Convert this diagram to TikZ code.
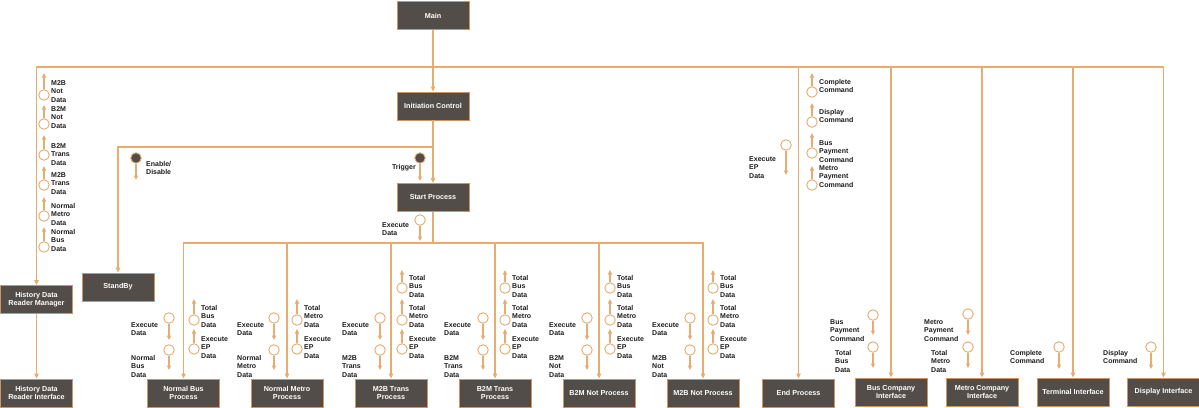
\documentclass[tikz,border=0pt]{standalone}
\usepackage{fontspec}
\setmainfont{Liberation Sans}
\usetikzlibrary{arrows.meta,calc}
\definecolor{ln}{RGB}{230,172,112}
\definecolor{bx}{RGB}{82,77,73}
\definecolor{bxd}{RGB}{205,150,95}
\definecolor{tx}{RGB}{30,30,30}
\tikzset{
 box/.style={draw=bxd, line width=0.9pt, fill=bx, minimum width=72pt, minimum height=28pt, inner sep=1pt, text=white, font=\bfseries\fontsize{7.2}{8.6}\selectfont, align=center},
 wire/.style={draw=ln, line width=1.3pt},
 warr/.style={wire, -{Triangle[length=5pt,width=4.5pt]}},
 farr/.style={draw=ln, line width=1.3pt, -{Triangle[length=4.5pt,width=4pt]}},
 dcirc/.style={circle, draw=ln, line width=0.9pt, fill=white, minimum size=10.5pt, inner sep=0},
 fcirc/.style={circle, draw=ln, line width=0.9pt, fill=bx, minimum size=10.5pt, inner sep=0},
 lbl/.style={inner sep=0, align=left, font=\bfseries\fontsize{7}{8.7}\selectfont, text=tx},
}
% down flow: name, cx, cy, tip y, label left x, label first-line y, text
\newcommand\dflow[7]{%
 \node[dcirc] (#1) at (#2,#3) {};
 \coordinate (#1e) at (#2,#4);
 \draw[farr] (#1) -- (#1e);
 \node[lbl, anchor=north west] (#1l) at (#5,#6-3) {#7};
}
% up flow: name, cx, cy, tip y, label first-line y, text
\newcommand\uflow[6]{%
 \node[dcirc] (#1) at (#2,#3) {};
 \coordinate (#1e) at (#2,#4);
 \draw[farr] (#1) -- (#1e);
 \node[lbl, anchor=north west] (#1l) at (#2+7,#5-3) {#6};
}
\begin{document}
\begin{tikzpicture}[x=1pt,y=-1pt]
\useasboundingbox[fill=white] (0,0) rectangle (1199,407);

% boxes
\node[box] (main) at (433,15.5) {Main};
\node[box] (ic) at (433,106) {Initiation Control};
\node[box] (sp) at (433,197.5) {Start Process};
\node[box] (sb) at (118,287) {StandBy};
\node[box] (hdrm) at (36.5,299.5) {History Data\\Reader Manager};
\node[box] (hdri) at (36.5,393) {History Data\\Reader Interface};
\node[box] (nbp) at (183.5,393) {Normal Bus\\Process};
\node[box] (nmp) at (287,393) {Normal Metro\\Process};
\node[box] (m2bt) at (391,393) {M2B Trans\\Process};
\node[box] (b2mt) at (495,393) {B2M Trans\\Process};
\node[box] (b2mn) at (599,393) {B2M Not Process};
\node[box] (m2bn) at (703,393) {M2B Not Process};
\node[box] (endp) at (798.5,393) {End Process};
\node[box] (bci) at (891,392) {Bus Company\\Interface};
\node[box] (mci) at (982,392) {Metro Company\\Interface};
\node[box] (ti) at (1073,392) {Terminal Interface};
\node[box] (di) at (1163.5,392) {Display Interface};

% junctions
\coordinate (jt) at (433,67);
\coordinate (jm) at (433,147);
\coordinate (js) at (433,243);

% main wires
\draw[warr] (main) -- (ic);
\draw[warr] (jt) -| (hdrm);
\draw[warr] (jt) -| (endp);
\draw[warr] (jt) -| (bci);
\draw[warr] (jt) -| (mci);
\draw[warr] (jt) -| (ti);
\draw[warr] (jt) -| (di);
\draw[warr] (hdrm) -- (hdri);
\draw[warr] (ic) -- (sp);
\draw[warr] (jm) -| (sb);
\draw[wire] (sp) -- (js);
\draw[warr] (js) -| (nbp);
\draw[warr] (js) -| (nmp);
\draw[warr] (js) -| (m2bt);
\draw[warr] (js) -| (b2mt);
\draw[warr] (js) -| (b2mn);
\draw[warr] (js) -| (m2bn);

% control flows
\node[fcirc] (en) at (136,158) {};
\coordinate (ene) at (136,180);
\draw[farr] (en) -- (ene);
\node[lbl, anchor=north west] (enl) at (146,161) {Enable/\\Disable};
\node[fcirc] (tr) at (420,158) {};
\coordinate (tre) at (420,181);
\draw[farr] (tr) -- (tre);
\node[lbl, anchor=east] (trl) at (416,168) {Trigger};

% data flows (down)
\dflow{sx}{420}{220}{241}{382}{225}{Execute\\Data}
\dflow{nb1}{169}{318}{340}{131}{325}{Execute\\Data}
\dflow{nb2}{169}{350}{370}{131}{358}{Normal\\Bus\\Data}
\dflow{nm1}{274}{318}{340}{237}{325}{Execute\\Data}
\dflow{nm2}{274}{350}{370}{237}{358}{Normal\\Metro\\Data}
\dflow{mt1}{380}{318}{340}{342}{325}{Execute\\Data}
\dflow{mt2}{380}{350}{370}{342}{358}{M2B\\Trans\\Data}
\dflow{bt1}{483}{318}{340}{444}{325}{Execute\\Data}
\dflow{bt2}{483}{350}{370}{444}{358}{B2M\\Trans\\Data}
\dflow{bn1}{587}{318}{340}{549}{325}{Execute\\Data}
\dflow{bn2}{587}{350}{370}{549}{358}{B2M\\Not\\Data}
\dflow{mn1}{690}{318}{340}{652}{325}{Execute\\Data}
\dflow{mn2}{690}{350}{370}{652}{358}{M2B\\Not\\Data}
\dflow{ep}{786}{145}{175}{749}{159}{Execute\\EP\\Data}
\dflow{bc1}{873}{315}{335}{830}{322}{Bus\\Payment\\Command}
\dflow{bc2}{873}{347}{368}{835}{353}{Total\\Bus\\Data}
\dflow{mc1}{968}{314}{335}{924}{322}{Metro\\Payment\\Command}
\dflow{mc2}{968}{347}{368}{931}{353}{Total\\Metro\\Data}
\dflow{tc}{1059}{347}{369}{1010}{353}{Complete\\Command}
\dflow{dc}{1151}{347}{369}{1103}{353}{Display\\Command}

% data flows (up) - history column
\uflow{h1}{44}{95}{73}{83}{M2B\\Not\\Data}
\uflow{h2}{44}{124}{105}{109}{B2M\\Not\\Data}
\uflow{h3}{44}{155}{135}{146}{B2M\\Trans\\Data}
\uflow{h4}{44}{185}{166}{175}{M2B\\Trans\\Data}
\uflow{h5}{44}{216}{197}{206}{Normal\\Metro\\Data}
\uflow{h6}{44}{247}{227}{232}{Normal\\Bus\\Data}
% end column
\uflow{e1}{812}{92}{73}{82}{Complete\\Command}
\uflow{e2}{812}{122}{103}{112}{Display\\Command}
\uflow{e3}{812}{153}{133}{143}{Bus\\Payment\\Command}
\uflow{e4}{812}{185}{166}{168}{Metro\\Payment\\Command}
% process outputs
\uflow{nbo1}{194}{320}{299}{308}{Total\\Bus\\Data}
\uflow{nbo2}{194}{349}{329}{339}{Execute\\EP\\Data}
\uflow{nmo1}{297}{320}{299}{308}{Total\\Metro\\Data}
\uflow{nmo2}{297}{349}{329}{339}{Execute\\EP\\Data}
\uflow{mto0}{402}{288}{270}{278}{Total\\Bus\\Data}
\uflow{mto1}{402}{320}{299}{308}{Total\\Metro\\Data}
\uflow{mto2}{402}{349}{329}{339}{Execute\\EP\\Data}
\uflow{bto0}{505}{288}{270}{278}{Total\\Bus\\Data}
\uflow{bto1}{505}{320}{299}{308}{Total\\Metro\\Data}
\uflow{bto2}{505}{349}{329}{339}{Execute\\EP\\Data}
\uflow{bno0}{610}{288}{270}{278}{Total\\Bus\\Data}
\uflow{bno1}{610}{320}{299}{308}{Total\\Metro\\Data}
\uflow{bno2}{610}{349}{329}{339}{Execute\\EP\\Data}
\uflow{mno0}{713}{288}{270}{278}{Total\\Bus\\Data}
\uflow{mno1}{713}{320}{299}{308}{Total\\Metro\\Data}
\uflow{mno2}{713}{349}{329}{339}{Execute\\EP\\Data}
\end{tikzpicture}
\end{document}
